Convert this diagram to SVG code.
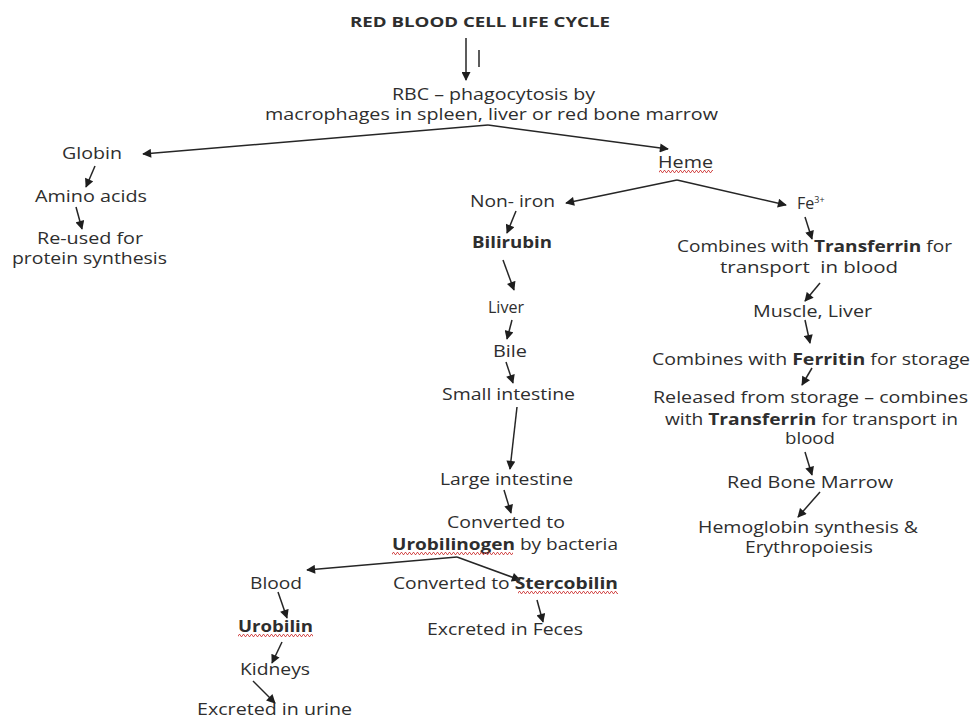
<svg xmlns="http://www.w3.org/2000/svg" width="972" height="719" viewBox="0 0 972 719">
<defs>
<style>
text{font-family:"Open Sans","Liberation Sans",sans-serif;font-size:16px;fill:#2e2e2e;text-anchor:middle}
.b{font-weight:bold}
.t{font-weight:bold;font-size:15px}
.c line{stroke:#262626;stroke-width:1.5;marker-end:url(#ah)}
.c line.n{marker-end:none}
</style>
<marker id="ah" viewBox="0 0 10 10" refX="9" refY="5" markerWidth="10" markerHeight="9" markerUnits="userSpaceOnUse" orient="auto"><path d="M0,0 L10,5 L0,10 z" fill="#1e1e1e"/></marker>
<pattern id="wave" width="4" height="3" patternUnits="userSpaceOnUse"><path d="M0,2.5 L1,0.5 L2,0.5 L3,2.5 L4,2.5" fill="none" stroke="#d04040" stroke-width="0.9"/></pattern>
</defs>
<rect width="972" height="719" fill="#fff"/>
<g class="c" id="connectors">
<line x1="466" y1="38" x2="466" y2="80"/>
<line class="n" x1="479" y1="50" x2="479" y2="67"/>
<line x1="488" y1="125" x2="143" y2="154"/>
<line x1="488" y1="125" x2="668" y2="149"/>
<line x1="677" y1="180" x2="566" y2="203"/>
<line x1="677" y1="180" x2="786" y2="205"/>
<line x1="95" y1="166" x2="86" y2="187"/>
<line x1="76" y1="207" x2="82" y2="229"/>
<line x1="516" y1="211" x2="507" y2="233"/>
<line x1="503" y1="260" x2="514" y2="290"/>
<line x1="512" y1="320" x2="507" y2="339"/>
<line x1="506" y1="362" x2="513" y2="383"/>
<line x1="517" y1="407" x2="510" y2="469"/>
<line x1="504" y1="490" x2="511" y2="513"/>
<line x1="457" y1="557" x2="307" y2="570"/>
<line x1="457" y1="557" x2="520" y2="580"/>
<line x1="278" y1="592" x2="287" y2="618"/>
<line x1="282" y1="642" x2="272" y2="663"/>
<line x1="253" y1="681" x2="275" y2="703"/>
<line x1="537" y1="600" x2="543" y2="622"/>
<line x1="805" y1="217" x2="812" y2="239"/>
<line x1="820" y1="283" x2="805" y2="301"/>
<line x1="805" y1="320" x2="810" y2="343"/>
<line x1="812" y1="368" x2="802" y2="385"/>
<line x1="805" y1="452" x2="812" y2="475"/>
<line x1="820" y1="492" x2="798" y2="517"/>
</g>
<g id="title"><text class="t" x="480" y="27" textLength="260" lengthAdjust="spacingAndGlyphs">RED BLOOD CELL LIFE CYCLE</text></g>
<g id="rbc"><text x="493.5" y="100" textLength="203" lengthAdjust="spacingAndGlyphs">RBC – phagocytosis by</text><text x="491.5" y="120" textLength="453" lengthAdjust="spacingAndGlyphs">macrophages in spleen, liver or red bone marrow</text></g>
<g id="globin"><text x="92" y="159" textLength="60" lengthAdjust="spacingAndGlyphs">Globin</text></g>
<g id="amino"><text x="91" y="202" textLength="112" lengthAdjust="spacingAndGlyphs">Amino acids</text></g>
<g id="reused"><text x="90" y="243.5" textLength="106" lengthAdjust="spacingAndGlyphs">Re-used for</text><text x="89.5" y="263.5" textLength="155" lengthAdjust="spacingAndGlyphs">protein synthesis</text></g>
<g id="heme"><text x="685.5" y="168" textLength="55" lengthAdjust="spacingAndGlyphs">Heme</text><rect transform="translate(659,170)" width="54" height="3" fill="url(#wave)"/></g>
<g id="noniron"><text x="512.5" y="207" textLength="85" lengthAdjust="spacingAndGlyphs">Non- iron</text></g>
<g id="bilirubin"><text class="b" x="512" y="248" textLength="80" lengthAdjust="spacingAndGlyphs">Bilirubin</text></g>
<g id="liver"><text x="506" y="313" font-size="16.5" textLength="36" lengthAdjust="spacingAndGlyphs">Liver</text></g>
<g id="bile"><text x="510" y="357" textLength="34" lengthAdjust="spacingAndGlyphs">Bile</text></g>
<g id="small"><text x="508.5" y="400" textLength="133" lengthAdjust="spacingAndGlyphs">Small intestine</text></g>
<g id="large"><text x="506.5" y="485" textLength="133" lengthAdjust="spacingAndGlyphs">Large intestine</text></g>
<g id="uroge"><text x="506" y="528" textLength="118" lengthAdjust="spacingAndGlyphs">Converted to</text><text x="505" y="550" textLength="226" lengthAdjust="spacingAndGlyphs"><tspan class="b">Urobilinogen</tspan> by bacteria</text><rect transform="translate(392,552)" width="121" height="3" fill="url(#wave)"/></g>
<g id="blood"><text x="276" y="589" textLength="52" lengthAdjust="spacingAndGlyphs">Blood</text></g>
<g id="sterco"><text x="505.5" y="589" textLength="225" lengthAdjust="spacingAndGlyphs">Converted to <tspan class="b">Stercobilin</tspan></text><rect transform="translate(518,591)" width="100" height="3" fill="url(#wave)"/></g>
<g id="urobilin"><text class="b" x="275.5" y="632" textLength="75" lengthAdjust="spacingAndGlyphs">Urobilin</text><rect transform="translate(238,634)" width="75" height="3" fill="url(#wave)"/></g>
<g id="kidneys"><text x="275" y="675" textLength="70" lengthAdjust="spacingAndGlyphs">Kidneys</text></g>
<g id="urine"><text x="274.5" y="715" textLength="155" lengthAdjust="spacingAndGlyphs">Excreted in urine</text></g>
<g id="feces"><text x="505" y="635" textLength="156" lengthAdjust="spacingAndGlyphs">Excreted in Feces</text></g>
<g id="fe"><text x="797" y="209" style="text-anchor:start">Fe<tspan font-size="9" dy="-6">3+</tspan></text></g>
<g id="transferrin1"><text x="814.5" y="252" textLength="275" lengthAdjust="spacingAndGlyphs">Combines with <tspan class="b">Transferrin</tspan> for</text><text x="809" y="273" xml:space="preserve" textLength="178" lengthAdjust="spacingAndGlyphs">transport  in blood</text></g>
<g id="muscle"><text x="812.5" y="317" textLength="119" lengthAdjust="spacingAndGlyphs">Muscle, Liver</text></g>
<g id="ferritin"><text x="811" y="365" textLength="318" lengthAdjust="spacingAndGlyphs">Combines with <tspan class="b">Ferritin</tspan> for storage</text></g>
<g id="released"><text x="810.5" y="403" textLength="315" lengthAdjust="spacingAndGlyphs">Released from storage – combines</text><text x="811.5" y="425" textLength="293" lengthAdjust="spacingAndGlyphs">with <tspan class="b">Transferrin</tspan> for transport in</text><text x="810" y="444" textLength="50" lengthAdjust="spacingAndGlyphs">blood</text></g>
<g id="marrow"><text x="810" y="488" textLength="166" lengthAdjust="spacingAndGlyphs">Red Bone Marrow</text></g>
<g id="hemo"><text x="808" y="533" textLength="220" lengthAdjust="spacingAndGlyphs">Hemoglobin synthesis &amp;</text><text x="809" y="553" textLength="128" lengthAdjust="spacingAndGlyphs">Erythropoiesis</text></g>
</svg>
